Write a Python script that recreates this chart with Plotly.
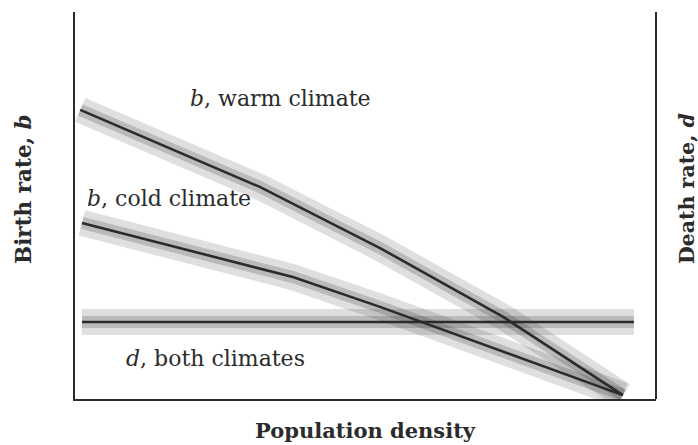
import plotly.graph_objects as go

# Data (axes are unitless 0-100)
warm_density = [0.9, 31.8, 52.5, 73.7, 94.3]
warm_birth = [74.7, 54.8, 39.0, 21.2, 1.0]

cold_density = [1.2, 37.5, 52.5, 94.3]
cold_birth = [45.5, 31.5, 23.8, 1.0]

d_density = [1.2, 96.2]
d_death = [19.9, 19.9]

FONT = "DejaVu Serif, serif"
INK = "#2b2b2b"

W, H = 698, 445
L, R, T, B = 75, W - 656, 12, H - 399
pw, ph = W - L - R, H - T - B


def px(x):
    return (x - L) / pw


def py(y):
    return (H - B - y) / ph


fig = go.Figure()

series = [
    (warm_density, warm_birth),
    (cold_density, cold_birth),
    (d_density, d_death),
]
# scatter clouds suggested by a soft band behind each line
for xs, ys in series:
    fig.add_trace(go.Scatter(x=xs, y=ys, mode="lines",
                             line=dict(color="rgba(40,40,40,0.15)", width=26),
                             hoverinfo="skip", showlegend=False))
    fig.add_trace(go.Scatter(x=xs, y=ys, mode="lines",
                             line=dict(color="rgba(40,40,40,0.2)", width=12),
                             hoverinfo="skip", showlegend=False))
for xs, ys in series:
    fig.add_trace(go.Scatter(x=xs, y=ys, mode="lines",
                             line=dict(color=INK, width=2.6),
                             showlegend=False))


def note(txt, x, y, size, angle=0):
    fig.add_annotation(text=txt, x=px(x), y=py(y), xref="paper", yref="paper",
                       xanchor="center", yanchor="middle", textangle=angle,
                       showarrow=False, font=dict(family=FONT, size=size, color=INK))


note("<i>b</i>, warm climate", 280, 98, 22)
note("<i>b</i>, cold climate", 169, 198, 22)
note("<i>d</i>, both climates", 215, 358, 22)

note("<b>Birth rate, <i>b</i></b>", 23, 189, 21.5, -90)
note("<b>Death rate, <i>d</i></b>", 687, 189, 20.5, -90)
note("<b>Population density</b>", 365, 430, 21)

# right frame line
fig.add_shape(type="line", xref="paper", yref="paper", x0=1, x1=1, y0=0, y1=1,
              line=dict(color=INK, width=2))

fig.update_xaxes(range=[0, 100], showline=True, linecolor=INK, linewidth=2,
                 showgrid=False, zeroline=False, showticklabels=False, ticks="")
fig.update_yaxes(range=[0, 100], showline=True, linecolor=INK, linewidth=2,
                 showgrid=False, zeroline=False, showticklabels=False, ticks="")

fig.update_layout(width=W, height=H, margin=dict(l=L, r=R, t=T, b=B),
                  paper_bgcolor="white", plot_bgcolor="white")

# remove the default page margin so the figure fills the window exactly
fig.write_html("out.html", config={"displayModeBar": False},
               post_script="document.body.style.margin='0';"
                           "document.body.style.overflow='hidden';")
